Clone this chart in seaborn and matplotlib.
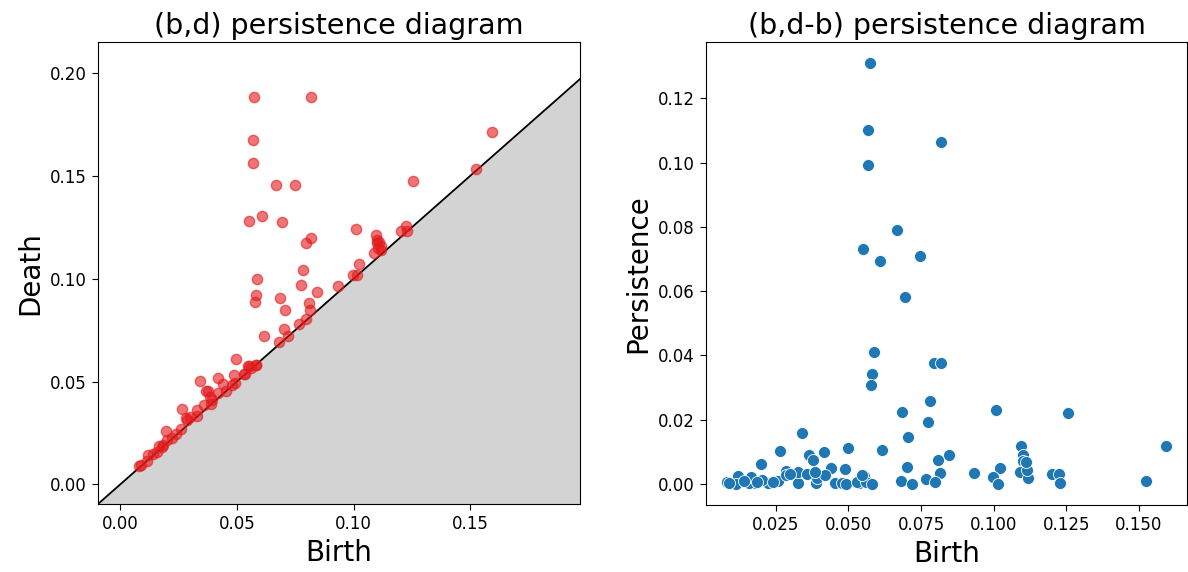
import numpy as np
import pandas as pd
import matplotlib
matplotlib.use("Agg")
import matplotlib.pyplot as plt
import seaborn as sns

birth = [0.0573, 0.0569, 0.0818, 0.0569, 0.0666, 0.0550, 0.0747, 0.0608, 0.0694, 0.0588,
         0.0581, 0.0577, 0.0795, 0.0819, 0.0782, 0.0683, 0.1009, 0.1254, 0.0775, 0.0342,
         0.0705, 0.1594, 0.1094, 0.0265, 0.0498, 0.0617, 0.0417, 0.0366, 0.0378, 0.0845,
         0.0809, 0.1099, 0.1102, 0.0198, 0.0703, 0.1022, 0.0284, 0.0440, 0.1106, 0.0815,
         0.0932, 0.1202, 0.1224, 0.0487, 0.1089, 0.1118, 0.1228, 0.1524, 0.0998, 0.1015,
         0.0766, 0.0797, 0.0682, 0.0719, 0.0536, 0.0554, 0.0580, 0.0453, 0.0478, 0.0493,
         0.0390, 0.0392, 0.0418, 0.0328, 0.0328, 0.0357, 0.0259, 0.0285, 0.0222, 0.0179,
         0.0157, 0.0202, 0.0165, 0.0121, 0.0113, 0.0082, 0.0090, 0.0184, 0.0530, 0.0559,
         0.0386, 0.0548, 0.0582, 0.1116, 0.1111, 0.0240, 0.0140, 0.0300]
persistence = [0.1310, 0.1103, 0.1063, 0.0994, 0.0790, 0.0730, 0.0710, 0.0695, 0.0583, 0.0410,
               0.0342, 0.0309, 0.0378, 0.0378, 0.0259, 0.0225, 0.0230, 0.0222, 0.0193, 0.0159,
               0.0145, 0.0118, 0.0119, 0.0102, 0.0113, 0.0106, 0.0099, 0.0090, 0.0075, 0.0090,
               0.0073, 0.0091, 0.0071, 0.0063, 0.0054, 0.0051, 0.0040, 0.0050, 0.0045, 0.0035,
               0.0033, 0.0030, 0.0031, 0.0045, 0.0038, 0.0020, 0.0004, 0.0010, 0.0021, 0.0001,
               0.0014, 0.0007, 0.0008, 0.0000, 0.0002, 0.0024, 0.0001, 0.0003, 0.0003, 0.0001,
               0.0002, 0.0020, 0.0028, 0.0003, 0.0036, 0.0031, 0.0010, 0.0028, 0.0002, 0.0003,
               0.0003, 0.0012, 0.0022, 0.0024, 0.0001, 0.0006, 0.0004, 0.0006, 0.0006, 0.0006,
               0.0038, 0.0028, 0.0000, 0.0044, 0.0068, 0.0005, 0.0010, 0.0030]

left_xticks = [0.0, 0.05, 0.10, 0.15]
left_yticks = [0.0, 0.05, 0.10, 0.15, 0.20]
right_xticks = [0.025, 0.050, 0.075, 0.100, 0.125, 0.150]

df = pd.DataFrame({"Birth": birth, "Persistence": persistence})
df["Death"] = df["Birth"] + df["Persistence"]

plt.rcParams["xtick.labelsize"] = 12
plt.rcParams["ytick.labelsize"] = 12
plt.rcParams["xtick.major.size"] = 4.5
plt.rcParams["ytick.major.size"] = 4.5

fig = plt.figure(figsize=(11.88, 5.72), dpi=100)
ax1 = fig.add_axes([98 / 1188, 68 / 572, 482 / 1188, 462 / 572])
ax2 = fig.add_axes([706 / 1188, 67 / 572, 481 / 1188, 463 / 572])

# Left: (b,d) diagram
lo, hi_x, hi_y = -0.0095, 0.197, 0.215
ax1.fill_between([lo, hi_x], [lo, lo], [lo, hi_x], color="lightgray", zorder=0)
ax1.plot([lo, hi_x], [lo, hi_x], color="black", lw=1.3, zorder=1)
sns.scatterplot(data=df, x="Birth", y="Death", ax=ax1, color="#e41a1c", alpha=0.6,
                s=55, edgecolor="#e41a1c", linewidth=1.0, zorder=2)
ax1.set_xlim(lo, hi_x)
ax1.set_ylim(lo, hi_y)
ax1.set_xticks(left_xticks)
ax1.set_yticks(left_yticks)
ax1.set_title("(b,d) persistence diagram", fontsize=20.5)
ax1.set_xlabel("Birth", fontsize=20)
ax1.set_ylabel("Death", fontsize=20)

# Right: (b,d-b) diagram
sns.scatterplot(data=df, x="Birth", y="Persistence", ax=ax2, color="#1f77b4", s=75,
                edgecolor="white", linewidth=0.6)
ax2.set_xticks(right_xticks)
ax2.set_xlim(0.001, 0.1665)
ax2.set_title("(b,d-b) persistence diagram", fontsize=20.5)
ax2.set_xlabel("Birth", fontsize=20)
ax2.set_ylabel("Persistence", fontsize=20)

fig.savefig("out.png", dpi=100)
